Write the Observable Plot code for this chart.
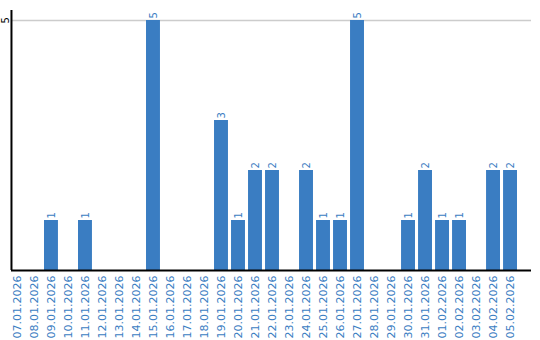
<!DOCTYPE html>
<html>
<head>
<meta charset="utf-8">
<script src="https://cdn.jsdelivr.net/npm/d3@7"></script>
<script src="https://cdn.jsdelivr.net/npm/@observablehq/plot@0.6"></script>
<style>
  html, body { margin: 0; padding: 0; background: #fff; }
</style>
</head>
<body>
<div id="chart"></div>
<script>
const dates = ["07.01.2026","08.01.2026","09.01.2026","10.01.2026","11.01.2026","12.01.2026","13.01.2026","14.01.2026","15.01.2026","16.01.2026","17.01.2026","18.01.2026","19.01.2026","20.01.2026","21.01.2026","22.01.2026","23.01.2026","24.01.2026","25.01.2026","26.01.2026","27.01.2026","28.01.2026","29.01.2026","30.01.2026","31.01.2026","01.02.2026","02.02.2026","03.02.2026","04.02.2026","05.02.2026"];
const values = [0,0,1,0,1,0,0,0,5,0,0,0,3,1,2,2,0,2,1,1,5,0,0,1,2,1,1,0,2,2];
const yTicks = [5];

const data = dates.map((d, i) => ({date: d, value: values[i]}));
const blue = "#3a7dc2";

const chart = Plot.plot({
  width: 540,
  height: 340,
  marginLeft: 11,
  marginRight: 9,
  marginTop: 10,
  marginBottom: 70,
  style: {fontFamily: "DejaVu Sans", fontSize: "11px", background: "#fff"},
  x: {domain: dates, range: [10, 517], paddingInner: 0.18, paddingOuter: 0, round: false, axis: null, label: null},
  y: {domain: [0, 5.2], axis: null, label: null},
  marks: [
    Plot.ruleY(yTicks, {stroke: "#cccccc", strokeWidth: 1.5}),
    Plot.barY(data, {x: "date", y: "value", fill: blue}),
    Plot.text(data.filter(d => d.value > 0), {x: "date", y: "value", text: d => String(d.value), rotate: -90, textAnchor: "start", dy: -2, fill: blue, fontSize: 10}),
    Plot.axisX({tickSize: 0, tickPadding: 5, tickRotate: -90, color: blue, fontSize: 11, label: null}),
    Plot.text(yTicks, {y: d => d, frameAnchor: "left", dx: -6, dy: 3, text: d => String(d), rotate: -90, fill: "black", fontSize: 10}),
    Plot.ruleY([0], {stroke: "black", strokeWidth: 2}),
    Plot.ruleX([dates[0]], {x: d => d, dx: -6, y1: 0, y2: 5.2, stroke: "black", strokeWidth: 2})
  ]
});
document.getElementById("chart").appendChild(chart);
</script>
</body>
</html>
